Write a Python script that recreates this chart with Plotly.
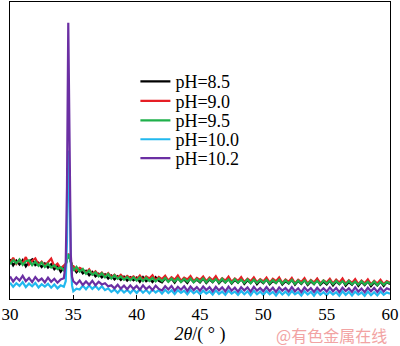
import plotly.graph_objects as go

# 2θ sampling positions (degrees), denser around the 34.6° reflection
two_theta = [
    30.00, 30.25, 30.50, 30.75, 31.00, 31.25, 31.50, 31.75, 32.00, 32.25,
    32.50, 32.75, 33.00, 33.25, 33.50, 33.75, 34.00, 34.25,
    34.40, 34.50, 34.60, 34.70, 34.80, 34.90,
    35.00, 35.25, 35.50, 35.75, 36.00, 36.25, 36.50, 36.75, 37.00, 37.25,
    37.50, 37.75, 38.00, 38.25, 38.50, 38.75, 39.00, 39.25, 39.50, 39.75,
    40.00, 40.25, 40.50, 40.75, 41.00, 41.25, 41.50, 41.75, 42.00, 42.25,
    42.50, 42.75, 43.00, 43.25, 43.50, 43.75, 44.00, 44.25, 44.50, 44.75,
    45.00, 45.25, 45.50, 45.75, 46.00, 46.25, 46.50, 46.75, 47.00, 47.25,
    47.50, 47.75, 48.00, 48.25, 48.50, 48.75, 49.00, 49.25, 49.50, 49.75,
    50.00, 50.25, 50.50, 50.75, 51.00, 51.25, 51.50, 51.75, 52.00, 52.25,
    52.50, 52.75, 53.00, 53.25, 53.50, 53.75, 54.00, 54.25, 54.50, 54.75,
    55.00, 55.25, 55.50, 55.75, 56.00, 56.25, 56.50, 56.75, 57.00, 57.25,
    57.50, 57.75, 58.00, 58.25, 58.50, 58.75, 59.00, 59.25, 59.50, 59.75,
    60.00,
]

# relative intensities (a.u.)
ph_8_5 = [
    13.4, 11.3, 12.9, 11.6, 13.1, 11.0, 12.5, 13.3, 11.4, 12.2,
    10.8, 12.0, 10.6, 11.7, 10.0, 11.1, 9.2, 10.4,
    11.5, 13.5, 15.0, 14.0, 11.8, 10.9,
    10.6, 9.0, 10.2, 8.6, 9.5, 8.0, 9.1, 7.6, 8.5, 7.3,
    8.3, 6.9, 7.9, 6.6, 7.6, 6.4, 7.5, 6.2, 7.3, 6.3,
    7.2, 5.8, 7.4, 6.0, 6.8, 5.7, 7.3, 6.1, 5.6, 7.0,
    5.9, 6.9, 5.5, 7.1, 5.8, 6.6, 5.4, 7.0, 5.7, 6.5,
    5.6, 6.9, 5.4, 6.6, 5.7, 7.0, 5.3, 6.5, 5.6, 6.8,
    5.2, 6.4, 5.5, 6.9, 5.1, 6.3, 5.4, 6.7, 5.0, 6.2,
    5.3, 6.6, 5.0, 6.1, 5.4, 6.7, 4.9, 6.0, 5.2, 6.5,
    4.8, 6.1, 5.1, 6.4, 4.7, 5.9, 5.0, 6.6, 4.8, 5.8,
    4.9, 6.2, 4.6, 5.9, 5.0, 6.3, 4.5, 5.7, 4.8, 6.1,
    4.4, 5.8, 4.7, 6.0, 4.3, 5.6, 4.6, 5.9, 4.4, 5.7,
    5.0,
]
ph_9_0 = [
    12.1, 13.9, 11.8, 13.2, 12.0, 14.1, 11.6, 12.9, 13.7, 11.5,
    12.6, 11.2, 12.4, 13.6, 11.0, 11.9, 10.3, 11.2,
    11.8, 13.8, 15.3, 14.3, 12.1, 11.2,
    11.1, 9.6, 10.5, 9.9, 8.8, 10.0, 8.4, 9.3, 8.0, 8.9,
    7.6, 8.7, 7.4, 8.2, 7.1, 8.1, 6.9, 7.8, 7.0, 7.6,
    6.6, 7.9, 6.4, 7.6, 6.9, 8.0, 6.3, 7.4, 6.7, 7.8,
    6.2, 7.3, 6.5, 7.9, 6.1, 7.2, 6.6, 7.7, 6.0, 7.1,
    6.4, 7.6, 6.0, 7.2, 6.3, 7.7, 5.9, 7.0, 6.2, 7.5,
    5.8, 6.9, 6.1, 7.4, 5.7, 6.8, 6.0, 7.3, 5.6, 6.7,
    5.9, 7.2, 5.5, 6.8, 6.0, 7.3, 5.4, 6.6, 5.8, 7.1,
    5.3, 6.5, 5.7, 7.0, 5.2, 6.4, 5.6, 6.9, 5.3, 6.3,
    5.6, 6.8, 5.2, 6.5, 5.5, 6.9, 5.1, 6.3, 5.4, 6.7,
    5.0, 6.2, 5.3, 6.6, 4.9, 6.1, 5.2, 6.5, 5.0, 6.0,
    5.5,
]
ph_9_5 = [
    11.7, 13.1, 12.0, 13.3, 11.5, 12.7, 13.0, 11.4, 12.6, 11.2,
    12.3, 10.8, 11.9, 10.6, 11.4, 10.1, 10.7, 9.6,
    11.6, 13.6, 15.1, 14.2, 12.0, 11.1,
    9.5, 10.8, 9.2, 10.1, 8.5, 9.6, 8.2, 9.0, 7.6, 8.7,
    7.3, 8.4, 6.9, 8.0, 6.8, 7.6, 6.5, 7.4, 6.3, 7.3,
    6.2, 7.3, 6.0, 7.2, 6.1, 7.1, 5.9, 7.0, 6.0, 7.1,
    5.8, 6.9, 5.9, 7.0, 5.7, 6.8, 5.8, 6.9, 5.6, 6.7,
    5.8, 6.9, 5.6, 6.8, 5.7, 6.7, 5.5, 6.8, 5.6, 6.6,
    5.4, 6.7, 5.5, 6.5, 5.4, 6.6, 5.3, 6.5, 5.4, 6.4,
    5.5, 6.5, 5.3, 6.4, 5.4, 6.5, 5.2, 6.3, 5.3, 6.4,
    5.1, 6.2, 5.2, 6.3, 5.0, 6.2, 5.1, 6.1, 5.0, 6.2,
    5.2, 6.2, 5.0, 6.1, 5.1, 6.0, 4.9, 6.1, 5.0, 5.9,
    4.8, 6.0, 4.9, 5.8, 4.8, 5.9, 4.7, 5.8, 4.8, 5.7,
    5.3,
]
ph_10_0 = [
    5.5, 4.1, 5.3, 4.4, 5.7, 4.0, 5.2, 4.3, 5.4, 3.9,
    5.0, 4.2, 5.1, 3.8, 4.9, 3.6, 4.6, 4.1,
    6.0, 20.0, 50.0, 38.0, 12.0, 4.5,
    2.6, 3.5, 3.2, 4.5, 3.3, 4.6, 3.4, 4.4, 3.2, 4.3,
    3.0, 3.6, 2.4, 3.2, 2.1, 3.3, 2.2, 3.1, 2.0, 3.2,
    2.0, 3.3, 2.1, 3.1, 1.9, 3.2, 2.2, 3.0, 1.8, 3.1,
    2.0, 2.9, 1.7, 3.0, 2.1, 2.8, 1.6, 3.0, 1.9, 2.7,
    1.6, 2.8, 1.8, 2.6, 1.5, 2.9, 1.7, 2.5, 1.4, 2.8,
    1.8, 2.5, 1.4, 2.7, 1.6, 2.6, 1.3, 2.8, 1.6, 2.5,
    1.4, 2.7, 1.6, 2.4, 1.2, 2.6, 1.5, 2.5, 1.3, 2.7,
    1.6, 2.3, 1.2, 2.6, 1.5, 2.4, 1.1, 2.6, 1.4, 2.3,
    1.3, 2.5, 1.5, 2.3, 1.1, 2.6, 1.4, 2.4, 1.2, 2.5,
    1.5, 2.2, 1.1, 2.5, 1.3, 2.3, 1.2, 2.5, 1.4, 2.2,
    1.8,
]
ph_10_2 = [
    7.6, 5.9, 7.3, 6.2, 7.8, 6.0, 7.1, 5.7, 7.4, 6.1,
    6.9, 5.6, 7.2, 5.8, 6.8, 5.5, 6.6, 7.0,
    12.0, 38.0, 93.0, 52.0, 15.0, 7.5,
    6.0, 5.0, 6.2, 4.7, 5.9, 4.8, 6.1, 4.6, 5.8, 4.9,
    5.3, 4.3, 4.6, 3.6, 4.8, 3.5, 4.5, 3.3, 4.6, 3.4,
    4.4, 3.1, 4.6, 3.3, 4.2, 3.0, 4.5, 3.4, 2.9, 4.3,
    3.2, 4.4, 2.8, 4.1, 3.1, 4.3, 2.7, 4.2, 3.0, 4.0,
    2.8, 4.2, 3.0, 4.0, 2.6, 4.1, 2.9, 3.9, 2.6, 4.2,
    2.8, 3.8, 2.5, 4.0, 2.9, 3.9, 2.5, 4.1, 2.8, 3.7,
    2.6, 4.0, 2.7, 3.8, 2.4, 3.9, 2.8, 3.7, 2.5, 4.0,
    2.6, 3.6, 2.3, 3.9, 2.7, 3.7, 2.4, 3.8, 2.6, 3.6,
    2.5, 3.9, 2.6, 3.7, 2.3, 3.8, 2.7, 3.6, 2.4, 3.9,
    2.5, 3.5, 2.3, 3.8, 2.6, 3.7, 2.4, 3.8, 2.5, 3.6,
    3.1,
]

series_names = ["pH=8.5", "pH=9.0", "pH=9.5", "pH=10.0", "pH=10.2"]
series_values = [ph_8_5, ph_9_0, ph_9_5, ph_10_0, ph_10_2]
series_colors = ["#000000", "#e61e25", "#1fb04b", "#22b8ee", "#6b2fa3"]

x_ticks = [30, 35, 40, 45, 50, 55, 60]

serif = "Liberation Serif, Times New Roman, Times, serif"

# one legend box per entry so the rows sit with tight spacing
legend_ids = ["legend", "legend2", "legend3", "legend4", "legend5"]
legend_rows = [0.7315, 0.6661, 0.6007, 0.5369, 0.4732]

fig = go.Figure()
for name, vals, color, lid in zip(series_names, series_values, series_colors, legend_ids):
    fig.add_trace(go.Scatter(
        x=two_theta, y=vals, mode="lines", name=name, legend=lid,
        line=dict(color=color, width=2.2),
    ))

legend_layout = {}
for lid, row in zip(legend_ids, legend_rows):
    legend_layout[lid] = dict(
        x=0.33, y=row, xanchor="left", yanchor="middle",
        bgcolor="rgba(0,0,0,0)",
        font=dict(family=serif, size=18, color="black"),
        itemwidth=30,
    )

fig.update_layout(
    width=400, height=346,
    margin=dict(l=7, r=4, t=1, b=47),
    paper_bgcolor="white", plot_bgcolor="white",
    showlegend=True,
    xaxis=dict(
        range=[30, 60], tickvals=x_ticks, ticktext=[str(t) for t in x_ticks],
        ticks="inside", ticklen=4, tickcolor="black",
        ticklabeloverflow="allow",
        showline=True, linecolor="black", linewidth=1, mirror=True,
        showgrid=False, zeroline=False,
        tickfont=dict(family=serif, size=17, color="black"),
        title=dict(text="<i>2θ</i>/( ° )", standoff=0,
                   font=dict(family=serif, size=18, color="black")),
    ),
    yaxis=dict(
        range=[0, 100], showticklabels=False, ticks="",
        showline=True, linecolor="black", linewidth=1, mirror=True,
        showgrid=False, zeroline=False,
    ),
    annotations=[dict(
        text="@有色金属在线", xref="paper", yref="paper",
        x=0.995, y=-0.121, xanchor="right", yanchor="middle",
        showarrow=False, borderpad=0,
        font=dict(family="Noto Sans CJK SC", size=16, color="#f2a3a3"),
    )],
    **legend_layout,
)

fig.write_html("out.html")
